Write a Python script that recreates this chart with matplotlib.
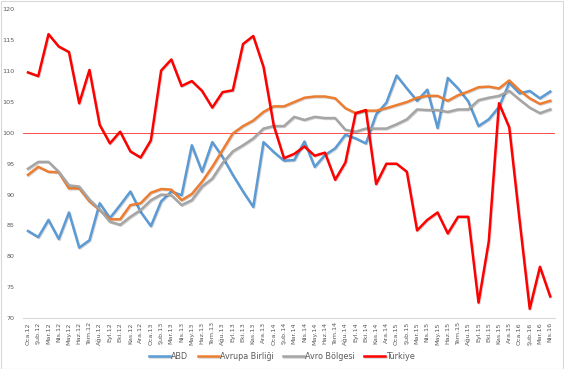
import matplotlib.pyplot as plt
import matplotlib.patheffects as pe
from matplotlib.patches import Rectangle

# month labels Oca.12 .. Nis.16
aylar = ["Oca", "Şub", "Mar", "Nis", "May", "Haz", "Tem", "Ağu", "Eyl", "Eki", "Kas", "Ara"]
etiketler = [f"{a}.{y}" for y in range(12, 17) for a in aylar][:52]

abd = [84.1, 83.1, 85.9, 82.8, 87.1, 81.4, 82.6, 88.6, 86.2, 88.3, 90.5, 87.2,
       84.9, 88.9, 90.5, 89.9, 98.0, 93.7, 98.5, 96.1, 93.2, 90.5, 88.0, 98.5,
       96.9, 95.5, 95.6, 98.6, 94.5, 96.4, 97.5, 99.7, 99.1, 98.3, 103.0, 104.9,
       109.3, 107.2, 105.2, 107.0, 100.8, 108.9, 107.2, 105.1, 101.1, 102.2, 104.2, 108.1,
       106.4, 106.8, 105.6, 106.7]

avrupa_birligi = [93.2, 94.5, 93.7, 93.6, 91.0, 91.0, 88.9, 87.5, 86.0, 86.0, 88.3, 88.6,
                  90.3, 90.9, 90.8, 89.1, 90.1, 92.1, 94.5, 97.2, 99.9, 101.1, 102.0, 103.4,
                  104.3, 104.3, 105.0, 105.7, 105.9, 105.9, 105.6, 104.0, 103.2, 103.6, 103.6, 104.0,
                  104.5, 105.0, 105.7, 106.0, 106.0, 105.2, 106.1, 106.7, 107.4, 107.5, 107.2, 108.5,
                  106.9, 105.6, 104.7, 105.2]

avro_bolgesi = [94.2, 95.3, 95.3, 93.7, 91.5, 91.3, 89.2, 87.6, 85.6, 85.1, 86.4, 87.5,
                89.1, 90.0, 89.9, 88.3, 89.1, 91.3, 92.6, 95.1, 97.0, 98.0, 99.1, 100.7,
                101.1, 101.1, 102.6, 102.1, 102.6, 102.4, 102.4, 100.5, 100.2, 100.7, 100.7, 100.7,
                101.4, 102.2, 103.8, 103.7, 103.7, 103.4, 103.8, 103.8, 105.3, 105.7, 106.0, 106.8,
                105.4, 104.1, 103.2, 103.8]

turkiye = [109.8, 109.2, 116.0, 114.0, 113.1, 104.8, 110.2, 101.3, 98.3, 100.2, 97.0, 96.0,
           98.8, 110.1, 111.9, 107.6, 108.4, 106.8, 104.1, 106.6, 106.9, 114.4, 115.7, 110.7,
           101.2, 95.9, 96.6, 97.8, 96.3, 96.8, 92.4, 95.2, 103.2, 103.7, 91.7, 95.0,
           95.0, 93.7, 84.2, 85.9, 87.1, 83.7, 86.4, 86.4, 72.5, 82.4, 104.8, 100.9,
           86.0, 71.5, 78.3, 73.5]

seriler = [("ABD", abd, "#5b9bd5"),
           ("Avrupa Birliği", avrupa_birligi, "#ed7d31"),
           ("Avro Bölgesi", avro_bolgesi, "#a5a5a5"),
           ("Türkiye", turkiye, "#ff0000")]

gri = "#595959"

fig = plt.figure(figsize=(5.64, 3.69), dpi=100)
ax = fig.add_axes([0.0406, 0.1382, 0.944, 0.8361])

x = list(range(len(etiketler)))
golge = [pe.SimpleLineShadow(offset=(0.6, -0.6), alpha=0.18, shadow_color="black"), pe.Normal()]
for ad, deger, renk in seriler:
    ax.plot(x, deger, color=renk, lw=1.8, label=ad, path_effects=golge)

# reference line at 100
ax.axhline(100, color="#ff3030", lw=0.6, zorder=1)

ax.set_xlim(-0.5, len(etiketler) - 0.5)
ax.set_ylim(70, 120)
ax.set_yticks(range(70, 121, 5))
ax.set_xticks(x)
ax.set_xticklabels(etiketler, rotation=90)
ax.tick_params(axis="both", length=0, labelsize=4.6, colors=gri, pad=3)
ax.tick_params(axis="y", pad=6)

for s in ["top", "right", "left"]:
    ax.spines[s].set_visible(False)
ax.spines["bottom"].set_color("#d9d9d9")
ax.spines["bottom"].set_linewidth(0.8)

fig.legend(loc="center", bbox_to_anchor=(0.5, 0.035), ncol=4, frameon=False,
           fontsize=5.8, labelcolor=gri, handlelength=2.6, handletextpad=0.1,
           columnspacing=1.2)

fig.patches.append(Rectangle((0.001, 0.001), 0.997, 0.997, transform=fig.transFigure,
                             fill=False, edgecolor="#d9d9d9", lw=0.8))

fig.savefig("out.png", dpi=100)
